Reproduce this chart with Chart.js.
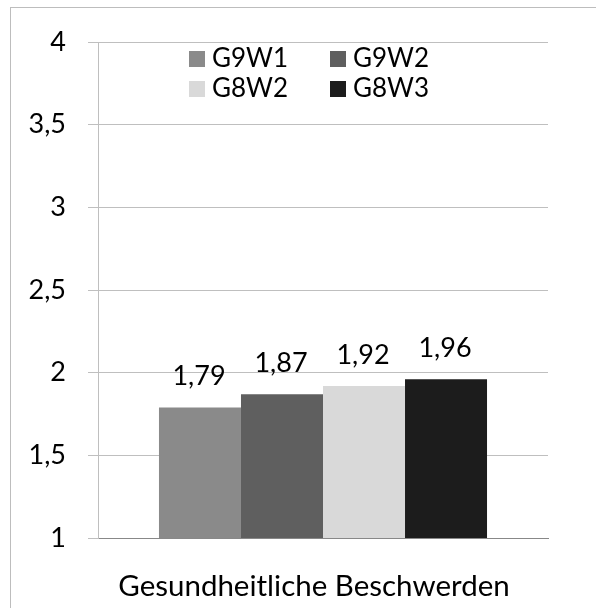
<!DOCTYPE html>
<html>
<head>
<meta charset="utf-8">
<script src="https://cdn.jsdelivr.net/npm/chart.js@4"></script>
<style>
  html, body { margin: 0; padding: 0; background: #fff; }
  #wrap { width: 596px; height: 608px; position: relative; }
</style>
</head>
<body>
<div id="wrap"><canvas id="chart"></canvas></div>
<script>
// data
const categories = ["Gesundheitliche Beschwerden"];
const seriesNames = ["G9W1", "G9W2", "G8W2", "G8W3"];
const seriesValues = [[1.79], [1.87], [1.92], [1.96]];
const seriesColors = ["#8a8a8a", "#5f5f5f", "#d9d9d9", "#1c1c1c"];
const yTicks = [1, 1.5, 2, 2.5, 3, 3.5, 4];

const FONT = "Lato, 'Open Sans', sans-serif";

function deNum(v) {
  return String(v).replace(".", ",");
}

// outer frame like the office chart border
const framePlugin = {
  id: "frame",
  beforeDraw: function (chart) {
    var ctx = chart.ctx;
    ctx.save();
    ctx.fillStyle = "#fff";
    ctx.fillRect(0, 0, chart.width, chart.height);
    ctx.strokeStyle = "#bdbdbd";
    ctx.lineWidth = 1;
    ctx.strokeRect(10.5, 7.5, chart.width + 20, chart.height + 20);
    ctx.restore();
  }
};

// value labels above bars
const valuePlugin = {
  id: "values",
  afterDatasetsDraw: function (chart) {
    var ctx = chart.ctx;
    ctx.save();
    ctx.font = "27px " + FONT;
    ctx.fillStyle = "#000";
    ctx.textAlign = "center";
    ctx.textBaseline = "alphabetic";
    chart.data.datasets.forEach(function (ds, i) {
      chart.getDatasetMeta(i).data.forEach(function (bar, j) {
        ctx.fillText(ds.data[j].toFixed(2).replace(".", ","), bar.x - 1, bar.y - 22);
      });
    });
    ctx.restore();
  }
};

// two-column legend inside the plot
const legendPlugin = {
  id: "innerLegend",
  afterDraw: function (chart) {
    var ctx = chart.ctx;
    var cols = [189, 330];
    var rows = [51, 81];
    ctx.save();
    ctx.font = "26px " + FONT;
    ctx.textBaseline = "alphabetic";
    ctx.textAlign = "left";
    chart.data.datasets.forEach(function (ds, i) {
      var x = cols[i % 2];
      var y = rows[Math.floor(i / 2)];
      ctx.fillStyle = ds.backgroundColor;
      ctx.fillRect(x, y, 16, 16);
      ctx.fillStyle = "#000";
      ctx.fillText(ds.label, x + 23, y + 16);
    });
    ctx.restore();
  }
};

const ctx = document.getElementById("chart").getContext("2d");
const chart = new Chart(ctx, {
  type: "bar",
  data: {
    labels: categories,
    datasets: seriesNames.map(function (name, i) {
      return {
        label: name,
        data: seriesValues[i],
        backgroundColor: seriesColors[i],
        borderWidth: 0,
        categoryPercentage: 0.729,
        barPercentage: 1
      };
    })
  },
  options: {
    responsive: true,
    maintainAspectRatio: false,
    animation: false,
    layout: { padding: { top: 42, right: 48, bottom: 0, left: 0 } },
    plugins: {
      legend: { display: false },
      tooltip: { enabled: false }
    },
    scales: {
      x: {
        grid: { display: false, drawTicks: false },
        border: { display: true, color: "#888888", width: 1 },
        ticks: {
          color: "#000",
          padding: 31,
          labelOffset: -9,
          font: { family: FONT, size: 29.5 }
        },
        afterFit: function (scale) { scale.height = 70; }
      },
      y: {
        min: 1,
        max: 4,
        afterBuildTicks: function (scale) {
          scale.ticks = yTicks.map(function (v) { return { value: v }; });
        },
        grid: { color: "#bfbfbf", tickLength: 10 },
        border: { display: true, color: "#bfbfbf" },
        ticks: {
          color: "#000",
          padding: 22,
          font: { family: FONT, size: 27 },
          callback: function (v) { return deNum(v); }
        },
        afterFit: function (scale) { scale.width = 98; }
      }
    }
  },
  plugins: [framePlugin, valuePlugin, legendPlugin]
});
</script>
</body>
</html>
